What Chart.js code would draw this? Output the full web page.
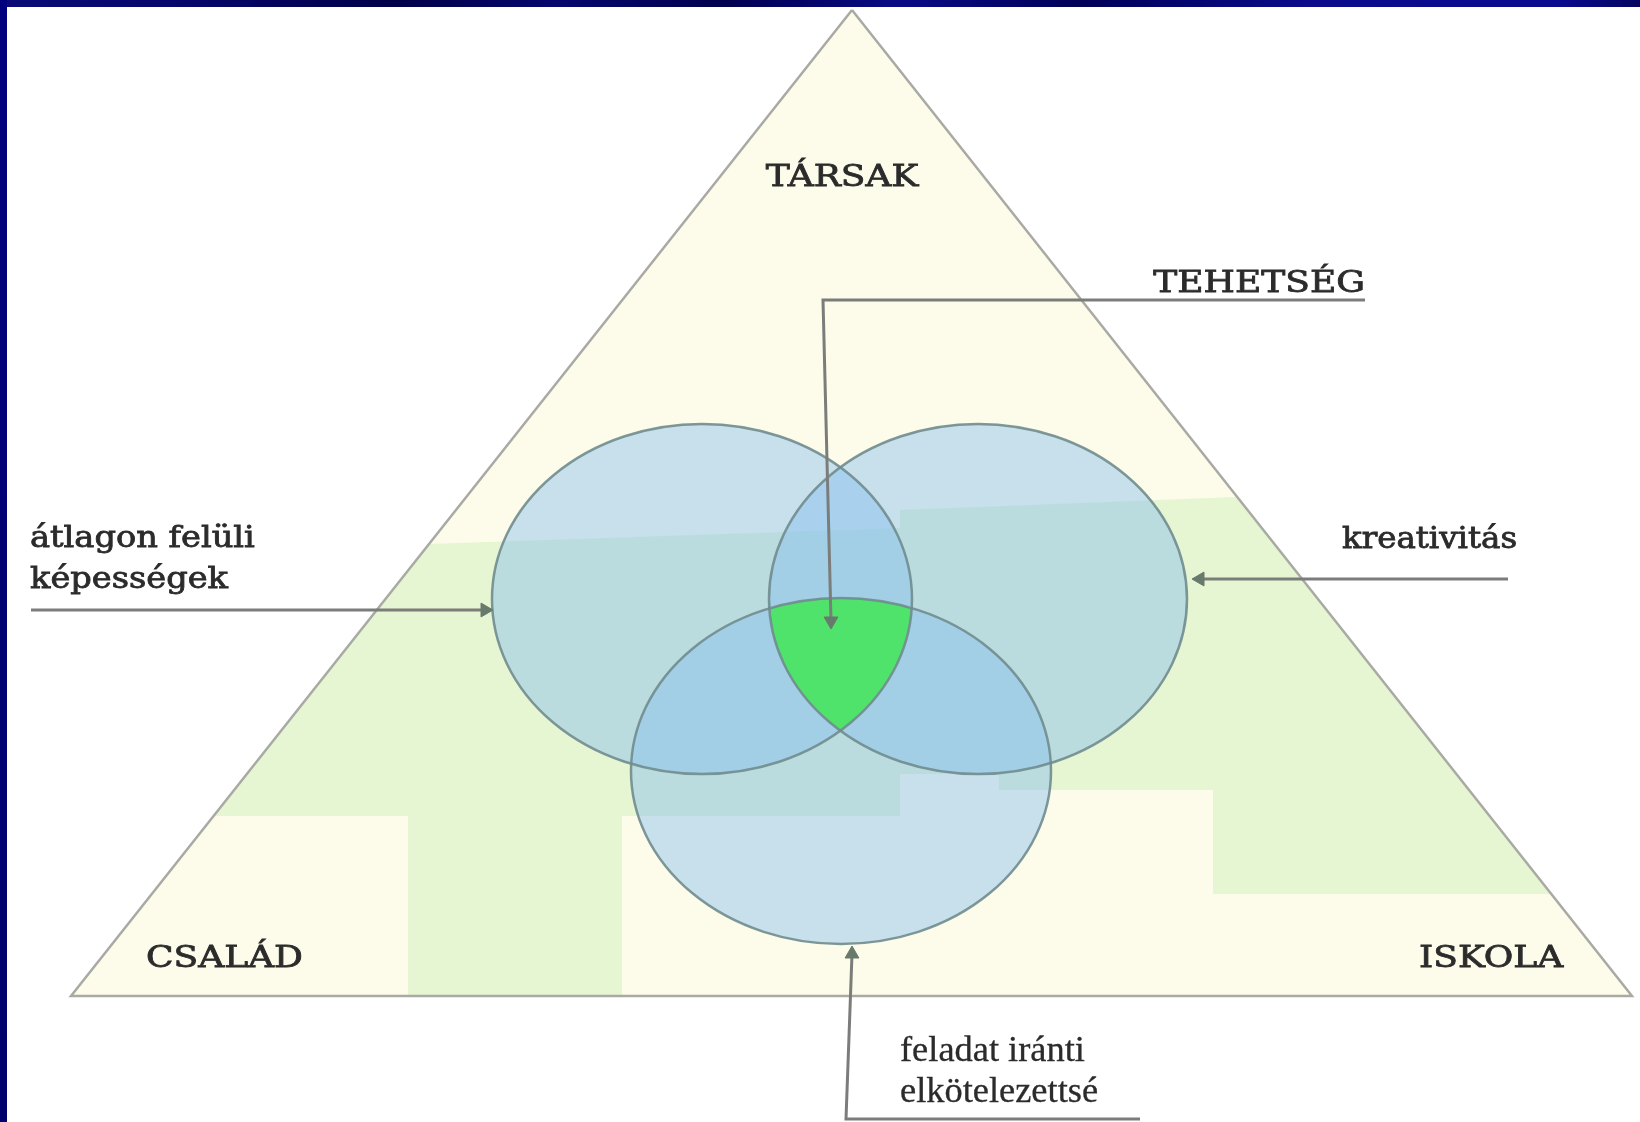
<!DOCTYPE html>
<html lang="hu">
<head>
<meta charset="UTF-8">
<title>Tehetség – háromszög modell</title>
<script src="https://cdn.jsdelivr.net/npm/chart.js@4.4.1/dist/chart.umd.min.js"></script>
<style>
  html,body{margin:0;padding:0;background:#fff;overflow:hidden}
  .frame-top{position:absolute;left:0;top:0;width:1640px;height:7px;
    background:linear-gradient(90deg,#0b0b78 0%,#05056a 12%,#000048 24%,#06066e 34%,#000050 44%,#0a0a86 55%,#000058 66%,#0b0b8c 80%,#0a0a90 95%,#050560 100%)}
  .frame-left{position:absolute;left:0;top:0;width:7px;height:1122px;background:linear-gradient(180deg,#00007e,#00006c)}
  #wrap{position:absolute;left:7px;top:7px;width:1633px;height:1115px}
</style>
</head>
<body>
<div class="frame-top"></div>
<div class="frame-left"></div>
<div id="wrap"><canvas id="c" width="1633" height="1115"></canvas></div>
<script>
// outer triangle (page pixel space, y grows downward)
const triangleX = [852, 1632, 71, 852];
const triangleY = [10, 996, 996, 10];

// light green background patches inside the triangle
const patchLeftX = [429, 900, 900, 214];
const patchLeftY = [544, 528, 816, 816];
const patchLowX = [408, 622, 622, 408];
const patchLowY = [816, 816, 996, 996];
const patchRightX = [900, 1236, 1469, 999, 999, 900];
const patchRightY = [510, 497, 790, 790, 774, 774];
const patchRightLowX = [1213, 1469, 1551, 1213];
const patchRightLowY = [790, 790, 894, 894];

// the three ellipses: left, right, bottom
const ellipseCX = [702, 978, 841];
const ellipseCY = [599, 599, 771];
const ellipseRX = [210, 209, 210];
const ellipseRY = [175, 175, 173];

// arrows (last point = arrow head)
const talentArrowX = [1365, 823, 831];
const talentArrowY = [300, 300, 621];
const abilityArrowX = [31, 485];
const abilityArrowY = [610, 610];
const creativityArrowX = [1508, 1200];
const creativityArrowY = [579, 579];
const commitmentArrowX = [1140, 846, 852];
const commitmentArrowY = [1119, 1119, 954];

const labelTexts = ['TÁRSAK', 'TEHETSÉG', 'CSALÁD', 'ISKOLA',
  'átlagon felüli', 'képességek', 'kreativitás', 'feladat iránti', 'elkötelezettsé'];

const labelLayout = [
  { x: 842, y: 186, align: 'center', size: 30, stretch: 1.2, family: 'DejaVu Serif', bold: 0.8 },
  { x: 1365, y: 292, align: 'right', size: 30, stretch: 1.2, family: 'DejaVu Serif', bold: 0.8 },
  { x: 146, y: 967, align: 'left', size: 30, stretch: 1.2, family: 'DejaVu Serif', bold: 0.8 },
  { x: 1419, y: 967, align: 'left', size: 30, stretch: 1.2, family: 'DejaVu Serif', bold: 0.8 },
  { x: 30, y: 547, align: 'left', size: 29, stretch: 1.16, family: 'DejaVu Serif', bold: 0.8 },
  { x: 30, y: 588, align: 'left', size: 29, stretch: 1.16, family: 'DejaVu Serif', bold: 0.8 },
  { x: 1342, y: 548, align: 'left', size: 29, stretch: 1.12, family: 'DejaVu Serif', bold: 0.8 },
  { x: 900, y: 1061, align: 'left', size: 35, stretch: 1.04, family: 'Liberation Serif', bold: 0.3 },
  { x: 900, y: 1102, align: 'left', size: 35, stretch: 1.04, family: 'Liberation Serif', bold: 0.3 }
];

const toPoints = (xs, ys) => xs.map((x, i) => ({ x, y: ys[i] }));

function polygon(xs, ys, color, order) {
  return {
    data: toPoints(xs, ys), fill: 'shape', backgroundColor: color,
    borderWidth: 0, borderColor: 'transparent', pointRadius: 0, tension: 0, order
  };
}

function arrow(xs, ys, rotation) {
  const last = xs.length - 1;
  return {
    data: toPoints(xs, ys), fill: false, layer: 'top', order: 1,
    borderColor: '#7b7d7b', borderWidth: 3, tension: 0,
    pointStyle: 'triangle',
    pointRadius: xs.map((_, i) => (i === last ? 8 : 0)),
    pointRotation: rotation,
    pointBackgroundColor: '#687a6b', pointBorderColor: '#687a6b', pointBorderWidth: 1
  };
}

function ellipsePath(ctx, chart, i) {
  const sx = chart.scales.x, sy = chart.scales.y;
  const cx = sx.getPixelForValue(ellipseCX[i]);
  const cy = sy.getPixelForValue(ellipseCY[i]);
  const rx = Math.abs(sx.getPixelForValue(ellipseCX[i] + ellipseRX[i]) - cx);
  const ry = Math.abs(sy.getPixelForValue(ellipseCY[i] + ellipseRY[i]) - cy);
  ctx.beginPath();
  ctx.ellipse(cx, cy, rx, ry, 0, 0, Math.PI * 2);
}

// draws the Venn ellipses right before the arrow layer
const vennPlugin = {
  id: 'venn',
  beforeDatasetsDraw(chart) { chart.$vennDone = false; },
  beforeDatasetDraw(chart, args) {
    if (chart.$vennDone || chart.data.datasets[args.index].layer !== 'top') return;
    chart.$vennDone = true;
    const ctx = chart.ctx;
    ctx.save();
    for (let i = 0; i < ellipseCX.length; i++) {
      ellipsePath(ctx, chart, i);
      ctx.fillStyle = 'rgba(132,190,240,0.45)';
      ctx.fill();
    }
    // common part of all three
    ctx.save();
    ellipsePath(ctx, chart, 0); ctx.clip();
    ellipsePath(ctx, chart, 1); ctx.clip();
    ellipsePath(ctx, chart, 2);
    ctx.fillStyle = '#4fe36c';
    ctx.fill();
    ctx.restore();
    ctx.lineWidth = 2.5;
    ctx.strokeStyle = 'rgba(112,140,142,0.9)';
    for (let i = 0; i < ellipseCX.length; i++) {
      ellipsePath(ctx, chart, i);
      ctx.stroke();
    }
    ctx.restore();
  }
};

const labelPlugin = {
  id: 'labels',
  afterDatasetsDraw(chart) {
    const ctx = chart.ctx;
    labelTexts.forEach((text, i) => {
      const l = labelLayout[i];
      const px = chart.scales.x.getPixelForValue(l.x);
      const py = chart.scales.y.getPixelForValue(l.y);
      ctx.save();
      ctx.translate(px, py);
      ctx.scale(l.stretch, 1);
      ctx.font = `${l.size}px "${l.family}"`;
      ctx.textAlign = l.align;
      ctx.textBaseline = 'alphabetic';
      ctx.fillStyle = '#2b2b2b';
      ctx.strokeStyle = '#2b2b2b';
      ctx.lineWidth = l.bold;
      ctx.fillText(text, 0, 0);
      ctx.strokeText(text, 0, 0);
      ctx.restore();
    });
  }
};

new Chart(document.getElementById('c'), {
  type: 'line',
  data: {
    datasets: [
      polygon(triangleX, triangleY, '#fdfbe9', 10),
      polygon(patchLeftX, patchLeftY, '#e6f5d2', 9),
      polygon(patchLowX, patchLowY, '#e6f5d2', 9),
      polygon(patchRightX, patchRightY, '#e6f5d2', 9),
      polygon(patchRightLowX, patchRightLowY, '#e6f5d2', 9),
      { data: toPoints(triangleX, triangleY), fill: false, borderColor: '#aaaaa4',
        borderWidth: 2.5, pointRadius: 0, tension: 0, order: 8 },
      arrow(talentArrowX, talentArrowY, 180),
      arrow(abilityArrowX, abilityArrowY, 90),
      arrow(creativityArrowX, creativityArrowY, 270),
      arrow(commitmentArrowX, commitmentArrowY, 0)
    ]
  },
  options: {
    responsive: false,
    animation: false,
    devicePixelRatio: 1,
    events: [],
    layout: { padding: 0, autoPadding: false },
    scales: {
      x: { type: 'linear', min: 7, max: 1640, display: false },
      y: { type: 'linear', min: 7, max: 1122, reverse: true, display: false }
    },
    plugins: { legend: { display: false }, tooltip: { enabled: false } }
  },
  plugins: [vennPlugin, labelPlugin]
});
</script>
</body>
</html>
